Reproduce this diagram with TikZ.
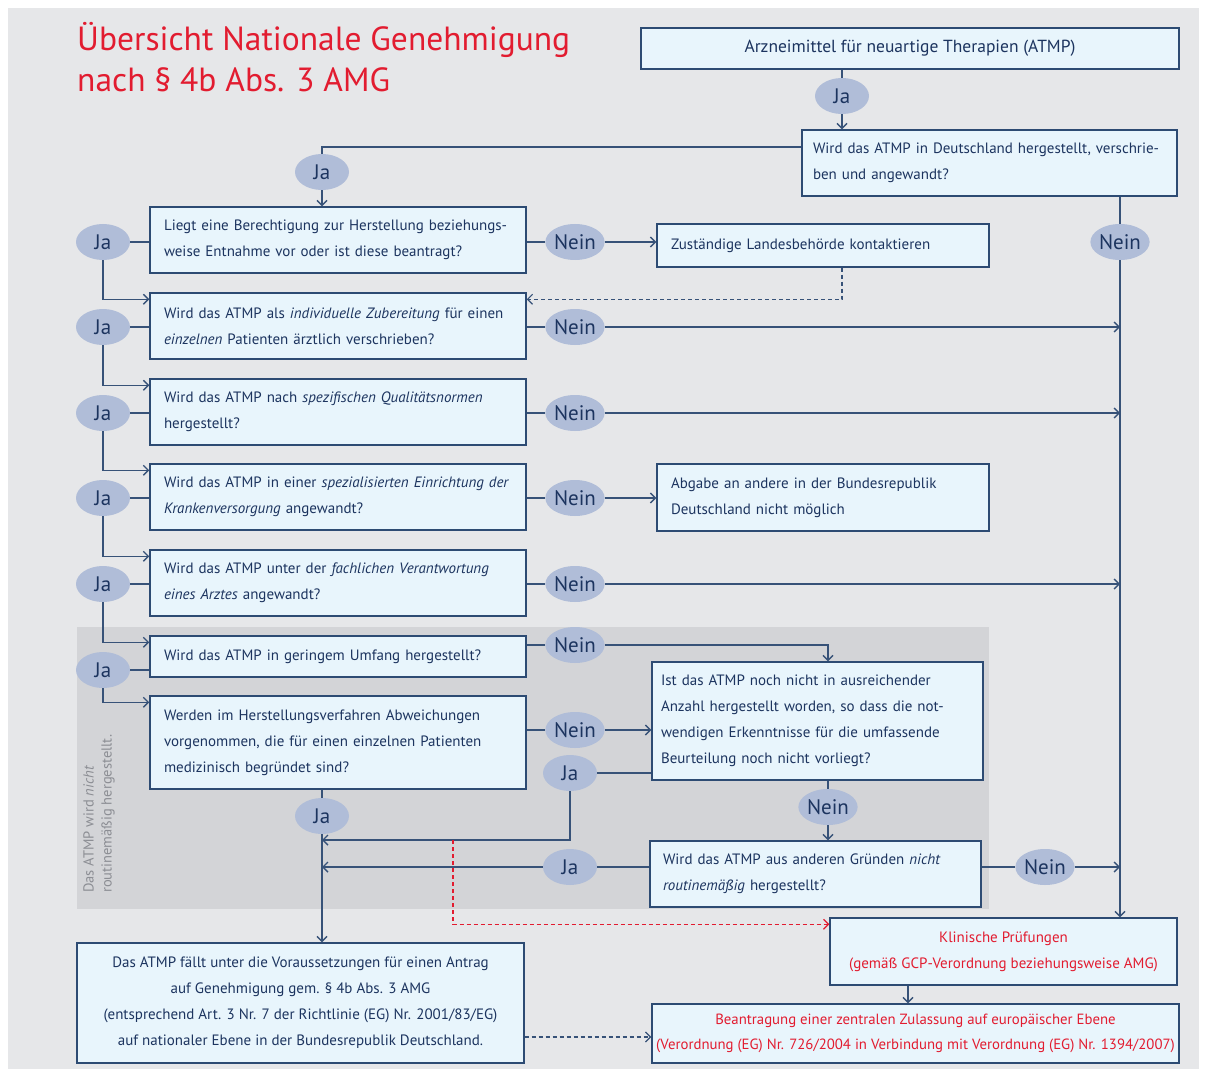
\documentclass[tikz,border=0pt]{standalone}
\usepackage{fontspec}
\setmainfont{PT Sans}
\usetikzlibrary{arrows.meta}
\usetikzlibrary{shapes.geometric}
\definecolor{bggrey}{RGB}{230,231,233}
\definecolor{zonegrey}{RGB}{211,212,215}
\definecolor{boxfill}{RGB}{232,245,252}
\definecolor{boxline}{RGB}{45,75,115}
\definecolor{lineblue}{RGB}{55,82,120}
\definecolor{ellfill}{RGB}{176,189,216}
\definecolor{navy}{RGB}{28,52,95}
\definecolor{redtxt}{RGB}{226,28,48}
\definecolor{notegrey}{RGB}{140,142,148}

\begin{document}
\begin{tikzpicture}[x=1pt,y=-1pt,
  box/.style={draw=boxline,fill=boxfill,line width=1.4pt,inner sep=0pt,text=navy,font=\fontsize{15}{26}\selectfont},
  qbox/.style={box,align=left},
  dec/.style={ellipse,fill=ellfill,minimum width=54,minimum height=36,inner sep=0pt,text=navy,font=\fontsize{21}{21}\selectfont},
  ln/.style={draw=lineblue,line width=1.4pt},
  arr/.style={ln,-{Straight Barb[length=5pt,width=10pt]}},
  dsh/.style={arr,dash pattern=on 4pt off 3pt,line width=1.2pt},
  rdsh/.style={dsh,draw=redtxt}]
  \useasboundingbox (0,0) rectangle (1206,1075);
  \fill[bggrey] (8,8) rectangle (1199,1069);
  \fill[zonegrey] (77,627) rectangle (989,909);

  \node[anchor=north west,inner sep=0pt,align=left,text=redtxt,font=\fontsize{33.5}{41}\selectfont] (title) at (77,22) {Übersicht Nationale Genehmigung\\nach § 4b Abs. 3 AMG};
  \node[rotate=90,anchor=north west,inner sep=0pt,align=left,text=notegrey,font=\fontsize{14.5}{18}\selectfont] (note) at (83,893) {Das ATMP wird \textit{nicht}\\routinemäßig hergestellt.};

  \node[box,minimum width=538,minimum height=41,font=\fontsize{17.5}{20}\selectfont] (atmp) at (910,48.5) {Arzneimittel für neuartige Therapien (ATMP)};
  \node[qbox,minimum width=375,minimum height=66,text width=353pt] (de) at (989.5,163) {Wird das ATMP in Deutschland hergestellt, verschrie-\\ben und angewandt?};
  \node[qbox,minimum width=376,minimum height=66,text width=348pt] (berecht) at (338,240) {Liegt eine Berechtigung zur Herstellung beziehungs-\\weise Entnahme vor oder ist diese beantragt?};
  \node[qbox,minimum width=376,minimum height=66,text width=348pt] (indiv) at (338,326) {Wird das ATMP als \textit{individuelle Zubereitung} für einen\\\textit{einzelnen} Patienten ärztlich verschrieben?};
  \node[qbox,minimum width=376,minimum height=66,text width=348pt] (quali) at (338,412) {Wird das ATMP nach \textit{spezifischen Qualitätsnormen}\\hergestellt?};
  \node[qbox,minimum width=376,minimum height=66,text width=348pt] (einr) at (338,497) {Wird das ATMP in einer \textit{spezialisierten Einrichtung der}\\\textit{Krankenversorgung} angewandt?};
  \node[qbox,minimum width=376,minimum height=66,text width=348pt] (arzt) at (338,583) {Wird das ATMP unter der \textit{fachlichen Verantwortung}\\\textit{eines Arztes} angewandt?};
  \node[qbox,minimum width=376,minimum height=41,text width=348pt] (umfang) at (338,656.5) {Wird das ATMP in geringem Umfang hergestellt?};
  \node[qbox,minimum width=376,minimum height=93,text width=348pt] (abw) at (338,742.5) {Werden im Herstellungsverfahren Abweichungen\\vorgenommen, die für einen einzelnen Patienten\\medizinisch begründet sind?};
  \node[qbox,minimum width=332,minimum height=43,text width=304pt] (landes) at (823,245.5) {Zuständige Landesbehörde kontaktieren};
  \node[qbox,minimum width=332,minimum height=67,text width=304pt] (abgabe) at (823,497.5) {Abgabe an andere in der Bundesrepublik\\Deutschland nicht möglich};
  \node[qbox,minimum width=331,minimum height=118,text width=313pt] (anzahl) at (817.5,721) {Ist das ATMP noch nicht in ausreichender\\Anzahl hergestellt worden, so dass die not-\\wendigen Erkenntnisse für die umfassende\\Beurteilung noch nicht vorliegt?};
  \node[qbox,minimum width=331,minimum height=66,text width=305pt] (gruende) at (815.5,874) {Wird das ATMP aus anderen Gründen \textit{nicht}\\\textit{routinemäßig} hergestellt?};
  \node[box,align=center,minimum width=447,minimum height=120] (antrag) at (300.5,1003) {Das ATMP fällt unter die Voraussetzungen für einen Antrag\\auf Genehmigung gem. § 4b Abs. 3 AMG\\(entsprechend Art. 3 Nr. 7 der Richtlinie (EG) Nr. 2001/83/EG)\\auf nationaler Ebene in der Bundesrepublik Deutschland.};
  \node[box,align=center,text=redtxt,minimum width=347,minimum height=67] (klin) at (1003.5,951.5) {Klinische Prüfungen\\(gemäß GCP-Verordnung beziehungsweise AMG)};
  \node[box,align=center,text=redtxt,minimum width=527,minimum height=59,font=\fontsize{14.8}{25}\selectfont] (zentral) at (915.5,1033.5) {Beantragung einer zentralen Zulassung auf europäischer Ebene\\(Verordnung (EG) Nr. 726/2004 in Verbindung mit Verordnung (EG) Nr. 1394/2007)};

  \node[dec] (jaA) at (842,96) {Ja};
  \node[dec] (jaB) at (322,172) {Ja};
  \node[dec] (neinB) at (1120,242) {Nein};
  \foreach \n/\y in {1/242,2/327,3/413,4/498,5/584,6/670}
    \node[dec] (ja\n) at (103,\y) {Ja};
  \foreach \n/\y in {1/242,2/327,3/413,4/498,5/584,6/645,7/730}
    \node[dec] (nein\n) at (575,\y) {Nein};
  \node[dec] (jaI) at (322,816) {Ja};
  \node[dec] (jaJ) at (570,773) {Ja};
  \node[dec] (jaK) at (570,867) {Ja};
  \node[dec] (neinJ) at (828,807) {Nein};
  \node[dec] (neinK) at (1045,867) {Nein};
  \coordinate (m1) at (322,840);
  \coordinate (m2) at (322,867);
  \coordinate (r0) at (453,840);

  \draw[ln] (atmp.south -| jaA) -- (jaA);
  \draw[arr] (jaA) -- (jaA |- de.north);
  \draw[ln] (de.west |- 0,147) -| (jaB);
  \draw[arr] (jaB) -- (jaB |- berecht.north);
  \draw[ln] (de.south -| neinB) -- (neinB);
  \draw[arr] (neinB) -- (neinB |- klin.north);
  \foreach \a/\b in {1/berecht,2/indiv,3/quali,4/einr,5/arzt,6/umfang}
    \draw[ln] (ja\a) -- (ja\a -| \b.west);
  \foreach \a/\b in {1/indiv,2/quali,3/einr,4/arzt,5/umfang,6/abw}
    \draw[arr] (ja\a) |- ([yshift=-7pt]\b.north west);
  \foreach \a/\b in {1/berecht,2/indiv,3/quali,4/einr,5/arzt,6/umfang,7/abw}
    \draw[ln] (\b.east |- nein\a) -- (nein\a);
  \draw[arr] (nein1) -- (nein1 -| landes.west);
  \draw[dsh] (landes.south -| 842,0) |- ([yshift=-7pt]indiv.north east);
  \foreach \a in {2,3,5}
    \draw[arr] (nein\a) -- (nein\a -| neinB);
  \draw[arr] (nein4) -- (nein4 -| abgabe.west);
  \draw[arr] (nein6) -| (828,0 |- anzahl.north);
  \draw[arr] (nein7) -- (nein7 -| anzahl.west);
  \draw[ln] (jaJ -| anzahl.west) -- (jaJ);
  \draw[arr] (jaJ) |- (m1);
  \draw[ln] (anzahl.south -| neinJ) -- (neinJ);
  \draw[arr] (neinJ) -- (neinJ |- gruende.north);
  \draw[ln] (gruende.west |- jaK) -- (jaK);
  \draw[arr] (jaK) -- (m2);
  \draw[ln] (gruende.east |- neinK) -- (neinK);
  \draw[arr] (neinK) -- (neinK -| neinB);
  \draw[ln] (abw.south -| jaI) -- (jaI);
  \draw[arr] (jaI) -- (jaI |- antrag.north);
  \draw[rdsh] (r0) |- ([yshift=-7pt]klin.north west);
  \draw[dsh] (antrag.east |- 0,1037) -- (zentral.west |- 0,1037);
  \draw[arr] (908,0 |- klin.south) -- (908,0 |- zentral.north);
\end{tikzpicture}
\end{document}
